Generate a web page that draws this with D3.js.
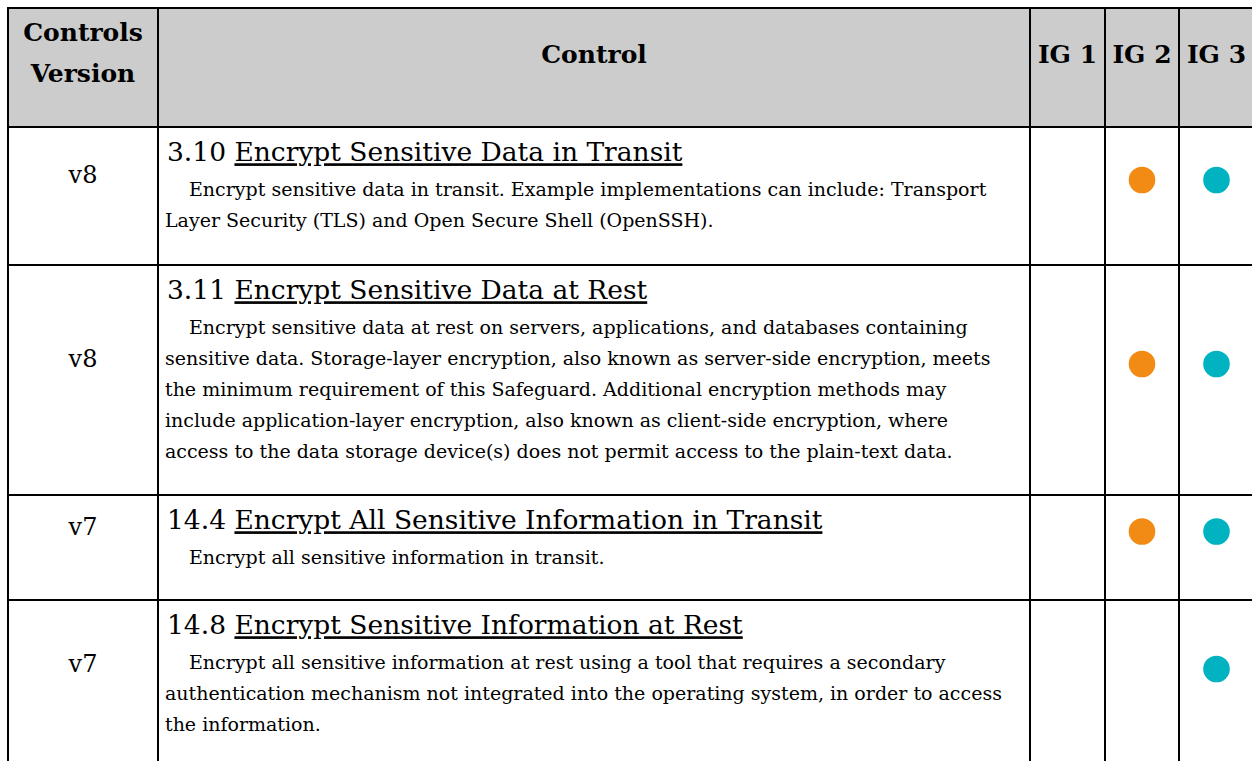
<!DOCTYPE html>
<html>
<head>
<meta charset="utf-8">
<script src="https://cdn.jsdelivr.net/npm/d3@7"></script>
<style>
  html, body { margin: 0; padding: 0; background: #ffffff; }
  svg { display: block; }
</style>
</head>
<body>
<script>
// ---------- data ----------
const headerLabels = [["Controls", "Version"], ["Control"], ["IG 1"], ["IG 2"], ["IG 3"]];
const versions = ["v8", "v8", "v7", "v7"];
const controlIds = ["3.10", "3.11", "14.4", "14.8"];
const controlTitles = [
  "Encrypt Sensitive Data in Transit",
  "Encrypt Sensitive Data at Rest",
  "Encrypt All Sensitive Information in Transit",
  "Encrypt Sensitive Information at Rest"
];
const descriptionLines = [
  ["Encrypt sensitive data in transit. Example implementations can include: Transport",
   "Layer Security (TLS) and Open Secure Shell (OpenSSH)."],
  ["Encrypt sensitive data at rest on servers, applications, and databases containing",
   "sensitive data. Storage-layer encryption, also known as server-side encryption, meets",
   "the minimum requirement of this Safeguard. Additional encryption methods may",
   "include application-layer encryption, also known as client-side encryption, where",
   "access to the data storage device(s) does not permit access to the plain-text data."],
  ["Encrypt all sensitive information in transit."],
  ["Encrypt all sensitive information at rest using a tool that requires a secondary",
   "authentication mechanism not integrated into the operating system, in order to access",
   "the information."]
];
const ig1 = [false, false, false, false];
const ig2 = [true, true, true, false];
const ig3 = [true, true, true, true];

// ---------- layout / style ----------
const W = 1252, H = 761;
const tableLeft = 8, tableTop = 8;
const colWidths = [150, 872, 75, 74, 75];
const headerHeight = 119;
const rowHeights = [138, 230, 105, 170];
const lineHeight = 31;
const serif = "'DejaVu Serif', 'Liberation Serif', serif";
const ig2Color = "#f18b13", ig3Color = "#01b2c0";

const colEdges = [tableLeft, ...Array.from(d3.cumsum(colWidths), v => tableLeft + v)];
const rowEdges = [tableTop, tableTop + headerHeight,
  ...Array.from(d3.cumsum(rowHeights), v => tableTop + headerHeight + v)];
const colCenter = i => (colEdges[i] + colEdges[i + 1]) / 2;

const svg = d3.select("body").append("svg")
  .attr("width", W).attr("height", H)
  .attr("viewBox", `0 0 ${W} ${H}`);

svg.append("rect").attr("width", W).attr("height", H).attr("fill", "#fff");

// header background
svg.append("rect")
  .attr("x", colEdges[0]).attr("y", rowEdges[0])
  .attr("width", colEdges[colEdges.length - 1] - colEdges[0])
  .attr("height", headerHeight)
  .attr("fill", "#cccccc");

// header text
const hdr = svg.append("g").attr("font-family", serif).attr("font-weight", "bold")
  .attr("font-size", 25).attr("fill", "#000").attr("text-anchor", "middle");
headerLabels.forEach((lines, i) => {
  const t = hdr.append("text").attr("x", colCenter(i)).attr("dy", "0.35em");
  if (lines.length === 2) {
    t.append("tspan").attr("x", colCenter(i)).attr("y", rowEdges[0] + 24).attr("dy", "0.35em").text(lines[0]);
    t.append("tspan").attr("x", colCenter(i)).attr("y", rowEdges[0] + 65).attr("dy", "0.35em").text(lines[1]);
  } else {
    t.attr("y", rowEdges[0] + 46).text(lines[0]);
  }
});

// body rows
const rows = svg.append("g").selectAll("g.row")
  .data(versions.map((v, i) => ({
    v, id: controlIds[i], title: controlTitles[i], lines: descriptionLines[i],
    ig: [ig1[i], ig2[i], ig3[i]], top: rowEdges[i + 1], bottom: rowEdges[i + 2]
  })))
  .join("g").attr("class", "row");

rows.append("text")
  .attr("x", colCenter(0))
  .attr("y", d => (d.top + d.bottom) / 2 - 21)
  .attr("dy", "0.35em")
  .attr("text-anchor", "middle")
  .attr("font-family", serif).attr("font-size", 24)
  .text(d => d.v);

const titleText = rows.append("text")
  .attr("x", colEdges[1] + 9)
  .attr("y", d => d.top + 25)
  .attr("dy", "0.35em")
  .attr("font-family", serif).attr("font-size", 26.5);
titleText.append("tspan").text(d => d.id + " ");
titleText.append("tspan").attr("text-decoration", "underline").text(d => d.title);

rows.each(function (d) {
  const g = d3.select(this);
  g.append("g").selectAll("text").data(d.lines).join("text")
    .attr("x", (l, j) => colEdges[1] + 7 + (j === 0 ? 24 : 0))
    .attr("y", (l, j) => d.top + 62 + j * lineHeight)
    .attr("dy", "0.35em")
    .attr("font-family", serif).attr("font-size", 19)
    .text(l => l);
  g.append("g").selectAll("circle")
    .data(d.ig.map((on, k) => ({ on, k })).filter(e => e.on))
    .join("circle")
    .attr("cx", e => colCenter(e.k + 2))
    .attr("cy", (d.top + d.bottom) / 2 - 16)
    .attr("r", 13.3)
    .attr("fill", e => e.k === 1 ? ig2Color : ig3Color);
});

// grid lines
const grid = svg.append("g").attr("stroke", "#000").attr("stroke-width", 2);
grid.selectAll("line.h").data(rowEdges).join("line").attr("class", "h")
  .attr("x1", colEdges[0] - 1).attr("x2", colEdges[colEdges.length - 1] + 1)
  .attr("y1", d => d).attr("y2", d => d);
grid.selectAll("line.v").data(colEdges).join("line").attr("class", "v")
  .attr("x1", d => d).attr("x2", d => d)
  .attr("y1", rowEdges[0] - 1).attr("y2", rowEdges[rowEdges.length - 1] + 1);
</script>
</body>
</html>
